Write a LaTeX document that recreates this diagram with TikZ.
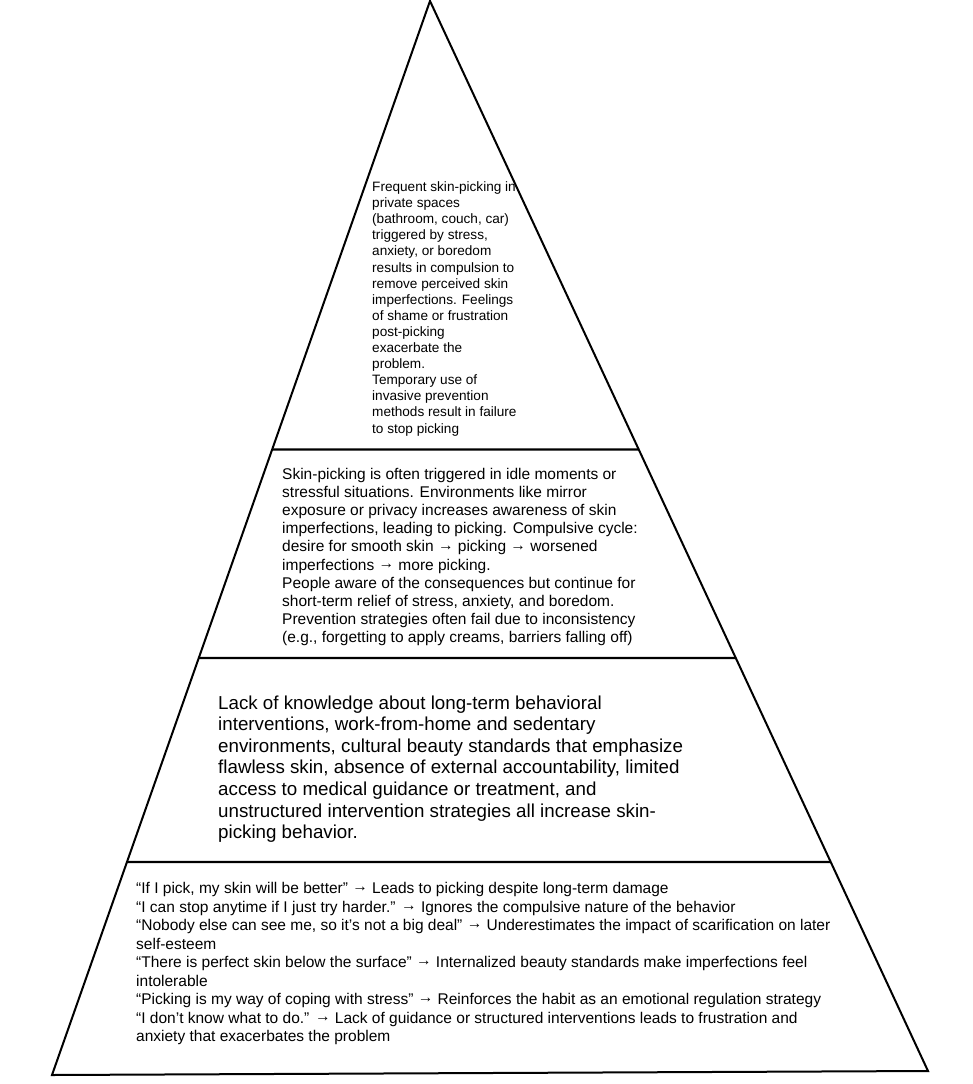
\documentclass[tikz,border=0pt]{standalone}
\usepackage{fontspec}
\setmainfont{Liberation Sans}
\usetikzlibrary{calc}
\tikzset{
  edge/.style={draw=black, line width=2pt, line join=miter},
  divider/.style={draw=black, line width=2.4pt},
  txt/.style={anchor=base west, inner sep=0pt, text=black},
}
\newcommand{\toptxt}{\fontsize{13.6}{16.1}\selectfont}
\newcommand{\midtxt}{\fontsize{15.5}{18.1}\selectfont}
\newcommand{\lowtxt}{\fontsize{15.5}{18.5}\selectfont}
\newcommand{\bigtxt}{\fontsize{18.75}{21.6}\selectfont}
\newcommand{\arrw}{\raisebox{0.1em}{→}}
\begin{document}
\begin{tikzpicture}[x=1pt,y=-1pt]
\useasboundingbox (0,0) rectangle (972,1084);
\fill[white] (0,0) rectangle (972,1084);
% triangle corners
\coordinate (A) at (430,1);
\coordinate (L) at (52,1075);
\coordinate (R) at (928,1071);
\draw[edge] (A) -- (L) -- (R) -- cycle;
% divider end points on the edges
\coordinate (d1l) at ($(A)!{(449.5-1)/1074}!(L)$);
\coordinate (d1r) at ($(A)!{(449.5-1)/1070}!(R)$);
\coordinate (d2l) at ($(A)!{(658-1)/1074}!(L)$);
\coordinate (d2r) at ($(A)!{(658-1)/1070}!(R)$);
\coordinate (d3l) at ($(A)!{(862-1)/1074}!(L)$);
\coordinate (d3r) at ($(A)!{(862-1)/1070}!(R)$);
\draw[divider] (d1l) -- (d1r);
\draw[divider] (d2l) -- (d2r);
\draw[divider] (d3l) -- (d3r);
% texts
\node[txt] (t1) at (372,191.5) {\toptxt\begin{tabular}[t]{@{}l@{}}
Frequent skin-picking in\\
private spaces\\
(bathroom, couch, car)\\
triggered by stress,\\
anxiety, or boredom\\
results in compulsion to\\
remove perceived skin\\
imperfections. Feelings\\
of shame or frustration\\
post-picking\\
exacerbate the\\
problem.\\
Temporary use of\\
invasive prevention\\
methods result in failure\\
to stop picking
\end{tabular}};
\node[txt] (t2) at (282,479.5) {\midtxt\begin{tabular}[t]{@{}l@{}}
Skin-picking is often triggered in idle moments or\\
stressful situations. Environments like mirror\\
exposure or privacy increases awareness of skin\\
imperfections, leading to picking. Compulsive cycle:\\
desire for smooth skin \arrw{} picking \arrw{} worsened\\
imperfections \arrw{} more picking.\\
People aware of the consequences but continue for\\
short-term relief of stress, anxiety, and boredom.\\
Prevention strategies often fail due to inconsistency\\
(e.g., forgetting to apply creams, barriers falling off)
\end{tabular}};
\node[txt] (t3) at (218,709) {\bigtxt\begin{tabular}[t]{@{}l@{}}
Lack of knowledge about long-term behavioral\\
interventions, work-from-home and sedentary\\
environments, cultural beauty standards that emphasize\\
flawless skin, absence of external accountability, limited\\
access to medical guidance or treatment, and\\
unstructured intervention strategies all increase skin-\\
picking behavior.
\end{tabular}};
\node[txt] (t4) at (136,893.5) {\lowtxt\begin{tabular}[t]{@{}l@{}}
“If I pick, my skin will be better” \arrw{} Leads to picking despite long-term damage\\
“I can stop anytime if I just try harder.” \arrw{} Ignores the compulsive nature of the behavior\\
“Nobody else can see me, so it’s not a big deal” \arrw{} Underestimates the impact of scarification on later\\
self-esteem\\
“There is perfect skin below the surface” \arrw{} Internalized beauty standards make imperfections feel\\
intolerable\\
“Picking is my way of coping with stress” \arrw{} Reinforces the habit as an emotional regulation strategy\\
“I don’t know what to do.” \arrw{} Lack of guidance or structured interventions leads to frustration and\\
anxiety that exacerbates the problem
\end{tabular}};
\end{tikzpicture}
\end{document}
